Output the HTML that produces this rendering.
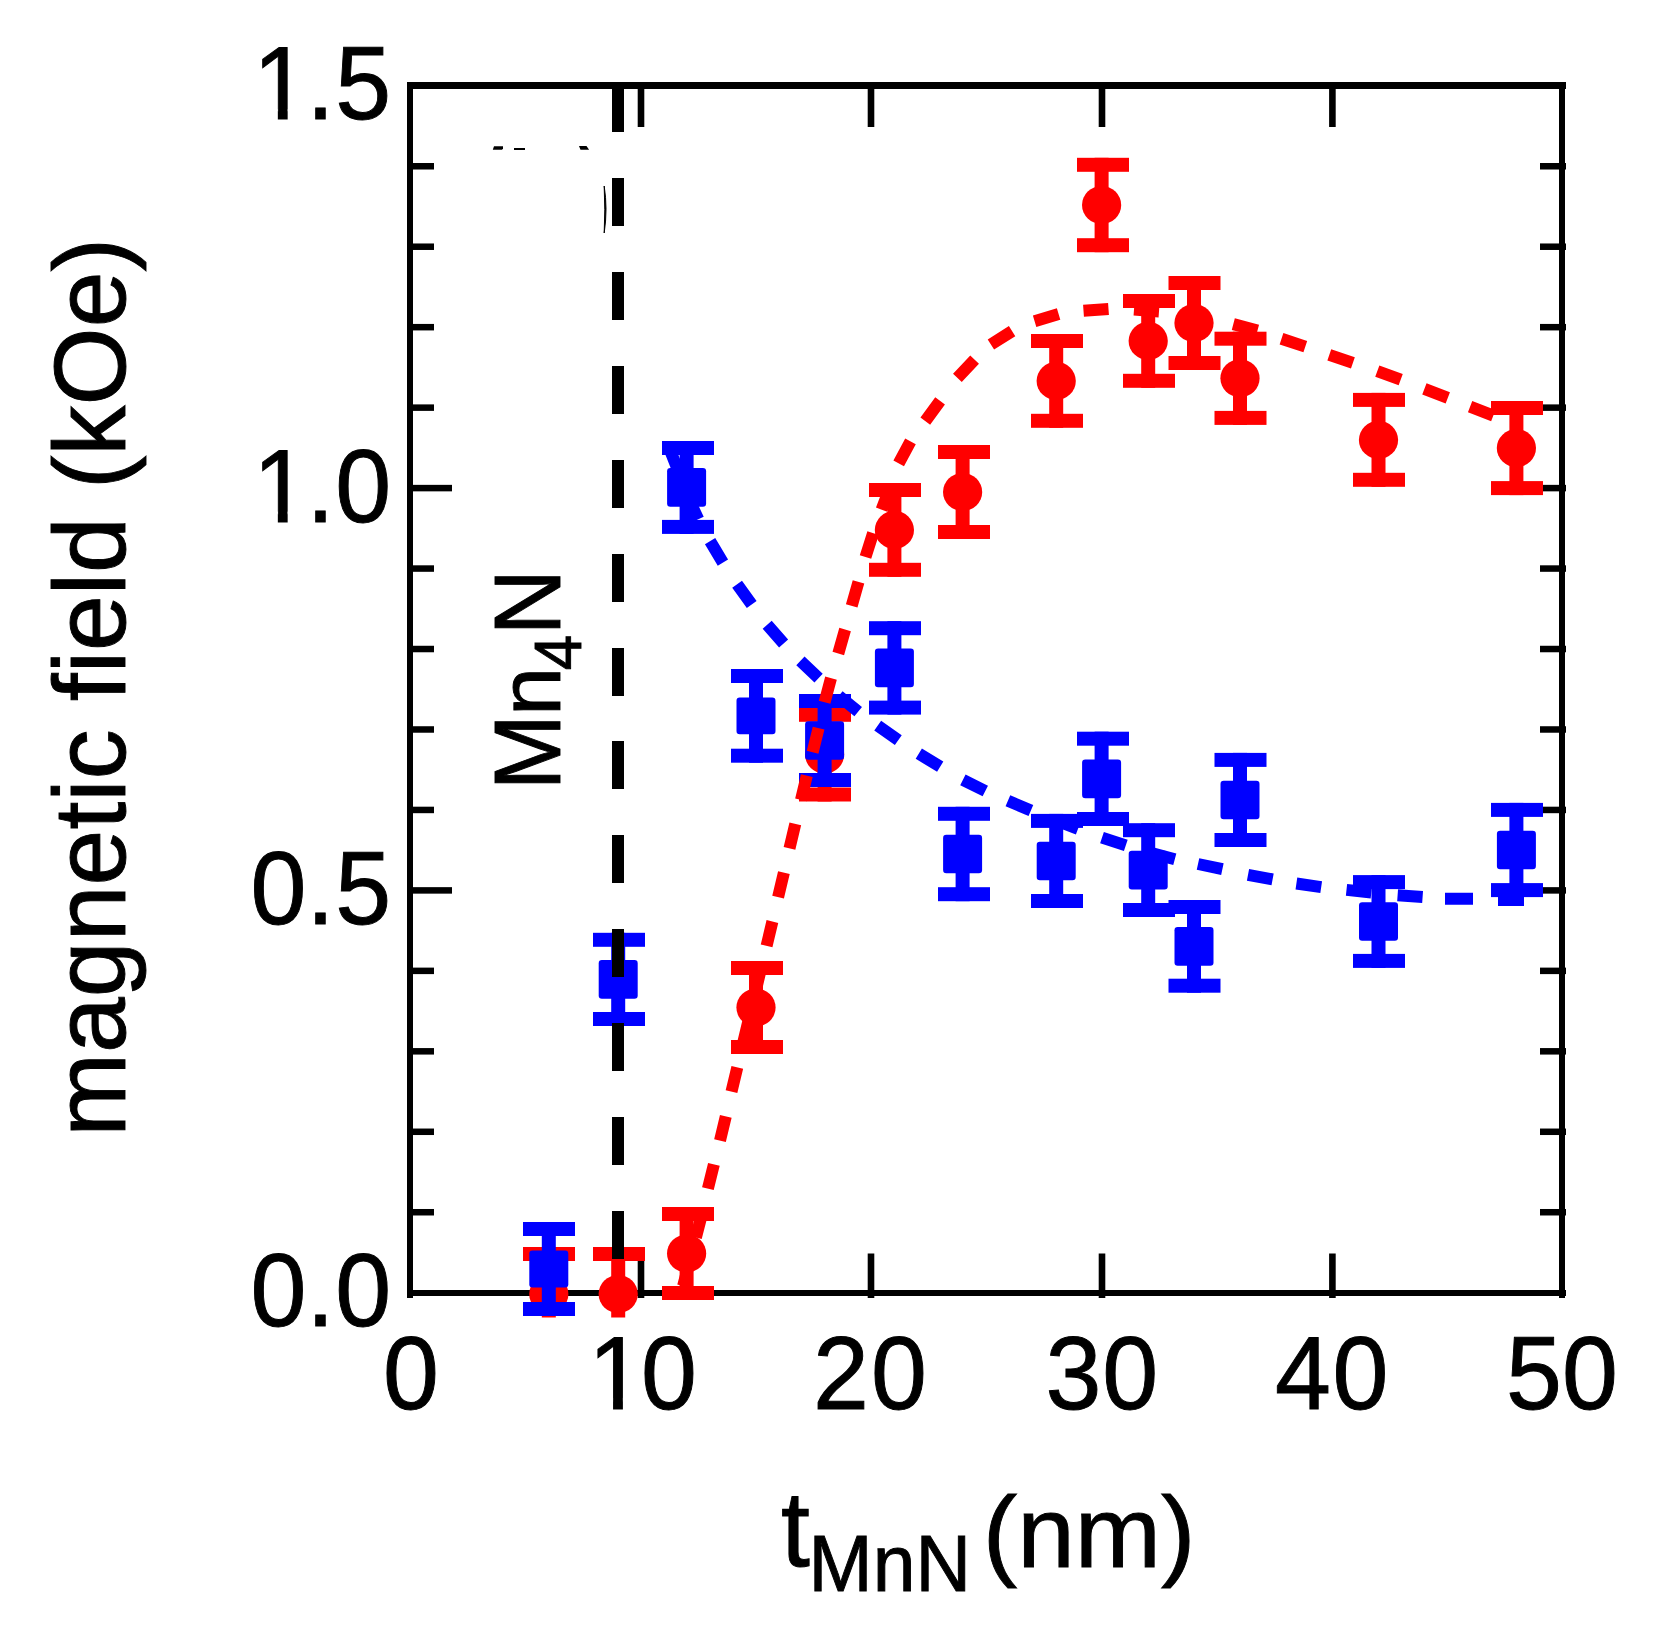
<!DOCTYPE html>
<html lang="en"><head><meta charset="utf-8"><title>Magnetic field vs MnN thickness</title>
<style>html,body{margin:0;padding:0;background:#fff}body{width:1668px;height:1640px;overflow:hidden}svg{display:block}text{font-family:"Liberation Sans",sans-serif;fill:#000;stroke:#000;stroke-width:0.9px;stroke-linejoin:miter}</style></head><body>
<svg width="1668" height="1640" viewBox="0 0 1668 1640" role="img" aria-label="Magnetic field versus MnN thickness">
<rect width="1668" height="1640" fill="#fff"/>
<defs><clipPath id="plotclip"><rect x="380" y="60" width="1230" height="1257.5"/></clipPath></defs>
<g fill="#000">
<rect x="407" y="82" width="6" height="1216"/>
<rect x="1559" y="82" width="6" height="1216"/>
<rect x="407" y="82" width="1159" height="7"/>
<rect x="407" y="1290" width="1159" height="6"/>
<rect x="407" y="1208.99" width="27" height="6.5"/>
<rect x="1540" y="1208.99" width="26" height="6.5"/>
<rect x="407" y="1128.53" width="27" height="6.5"/>
<rect x="1540" y="1128.53" width="26" height="6.5"/>
<rect x="407" y="1048.07" width="27" height="6.5"/>
<rect x="1540" y="1048.07" width="26" height="6.5"/>
<rect x="407" y="967.61" width="27" height="6.5"/>
<rect x="1540" y="967.61" width="26" height="6.5"/>
<rect x="407" y="887.15" width="45" height="6.5"/>
<rect x="1521" y="887.15" width="45" height="6.5"/>
<rect x="407" y="806.69" width="27" height="6.5"/>
<rect x="1540" y="806.69" width="26" height="6.5"/>
<rect x="407" y="726.23" width="27" height="6.5"/>
<rect x="1540" y="726.23" width="26" height="6.5"/>
<rect x="407" y="645.77" width="27" height="6.5"/>
<rect x="1540" y="645.77" width="26" height="6.5"/>
<rect x="407" y="565.31" width="27" height="6.5"/>
<rect x="1540" y="565.31" width="26" height="6.5"/>
<rect x="407" y="484.85" width="45" height="6.5"/>
<rect x="1521" y="484.85" width="45" height="6.5"/>
<rect x="407" y="404.39" width="27" height="6.5"/>
<rect x="1540" y="404.39" width="26" height="6.5"/>
<rect x="407" y="323.93" width="27" height="6.5"/>
<rect x="1540" y="323.93" width="26" height="6.5"/>
<rect x="407" y="243.47" width="27" height="6.5"/>
<rect x="1540" y="243.47" width="26" height="6.5"/>
<rect x="407" y="163.01" width="27" height="6.5"/>
<rect x="1540" y="163.01" width="26" height="6.5"/>
<rect x="637.7" y="82" width="6.6" height="45"/>
<rect x="637.7" y="1253.5" width="6.6" height="44.5"/>
<rect x="867.7" y="82" width="6.6" height="45"/>
<rect x="867.7" y="1253.5" width="6.6" height="44.5"/>
<rect x="1098.7" y="82" width="6.6" height="45"/>
<rect x="1098.7" y="1253.5" width="6.6" height="44.5"/>
<rect x="1329.1" y="82" width="6.6" height="45"/>
<rect x="1329.1" y="1253.5" width="6.6" height="44.5"/>
</g>
<g fill="#ff0000" clip-path="url(#plotclip)">
<rect x="523" y="1247.0" width="52" height="14"/><rect x="523" y="1327.0" width="52" height="14"/><rect x="541.8" y="1247.0" width="14" height="94.0"/>
<ellipse cx="548.8" cy="1294.0" rx="19.6" ry="19"/>
<rect x="593" y="1247.0" width="52" height="14"/><rect x="593" y="1327.0" width="52" height="14"/><rect x="611.2" y="1247.0" width="14" height="94.0"/>
<ellipse cx="618.2" cy="1294.0" rx="19.6" ry="19"/>
<rect x="662" y="1207.0" width="52" height="14"/><rect x="662" y="1286.0" width="52" height="14"/><rect x="679.6" y="1207.0" width="14" height="93.0"/>
<ellipse cx="686.6" cy="1253.5" rx="19.6" ry="19"/>
<rect x="731" y="961.0" width="52" height="14"/><rect x="731" y="1040.0" width="52" height="14"/><rect x="749.0" y="961.0" width="14" height="93.0"/>
<ellipse cx="756.0" cy="1007.5" rx="19.6" ry="19"/>
<rect x="799" y="707.8" width="52" height="14"/><rect x="799" y="787.5" width="52" height="14"/><rect x="817.6" y="707.8" width="14" height="93.7"/>
<ellipse cx="824.6" cy="754.6" rx="19.6" ry="19"/>
<rect x="869" y="483.0" width="52" height="14"/><rect x="869" y="562.8" width="52" height="14"/><rect x="887.4" y="483.0" width="14" height="93.8"/>
<ellipse cx="894.4" cy="529.9" rx="19.6" ry="19"/>
<rect x="938" y="445.0" width="52" height="14"/><rect x="938" y="525.0" width="52" height="14"/><rect x="955.6" y="445.0" width="14" height="94.0"/>
<ellipse cx="962.6" cy="492.0" rx="19.6" ry="19"/>
<rect x="1031" y="334.0" width="52" height="14"/><rect x="1031" y="413.8" width="52" height="14"/><rect x="1049.2" y="334.0" width="14" height="93.8"/>
<ellipse cx="1056.2" cy="380.9" rx="19.6" ry="19"/>
<rect x="1077" y="157.8" width="52" height="14"/><rect x="1077" y="238.2" width="52" height="14"/><rect x="1094.6" y="157.8" width="14" height="94.4"/>
<ellipse cx="1101.6" cy="205.0" rx="19.6" ry="19"/>
<rect x="1123" y="294.0" width="52" height="14"/><rect x="1123" y="373.8" width="52" height="14"/><rect x="1141.2" y="294.0" width="14" height="93.8"/>
<ellipse cx="1148.2" cy="340.9" rx="19.6" ry="19"/>
<rect x="1168.5" y="276.0" width="52" height="14"/><rect x="1168.5" y="356.0" width="52" height="14"/><rect x="1187.0" y="276.0" width="14" height="94.0"/>
<ellipse cx="1194.0" cy="323.0" rx="19.6" ry="19"/>
<rect x="1214.5" y="331.7" width="52" height="14"/><rect x="1214.5" y="410.9" width="52" height="14"/><rect x="1233.0" y="331.7" width="14" height="93.2"/>
<ellipse cx="1240.0" cy="378.3" rx="19.6" ry="19"/>
<rect x="1353" y="392.9" width="52" height="14"/><rect x="1353" y="472.8" width="52" height="14"/><rect x="1371.5" y="392.9" width="14" height="93.9"/>
<ellipse cx="1378.5" cy="439.9" rx="19.6" ry="19"/>
<rect x="1491" y="401.0" width="52" height="14"/><rect x="1491" y="481.1" width="52" height="14"/><rect x="1509.4" y="401.0" width="14" height="94.1"/>
<ellipse cx="1516.4" cy="448.1" rx="19.6" ry="19"/>
</g>
<g fill="#0000ff" clip-path="url(#plotclip)">
<rect x="523" y="1222.0" width="52" height="14"/><rect x="523" y="1302.0" width="52" height="14"/><rect x="541.8" y="1222.0" width="14" height="94.0"/>
<rect x="529.3" y="1250.5" width="39" height="37.0" rx="3.2"/>
<rect x="593" y="932.8" width="52" height="14"/><rect x="593" y="1012.0" width="52" height="14"/><rect x="611.2" y="932.8" width="14" height="93.2"/>
<rect x="598.7" y="960.1" width="39" height="38.6" rx="3.2"/>
<rect x="662" y="441.0" width="52" height="14"/><rect x="662" y="519.9" width="52" height="14"/><rect x="679.6" y="441.0" width="14" height="92.9"/>
<rect x="667.1" y="468.1" width="39" height="38.6" rx="3.2"/>
<rect x="731" y="669.0" width="52" height="14"/><rect x="731" y="748.7" width="52" height="14"/><rect x="749.0" y="669.0" width="14" height="93.7"/>
<rect x="736.5" y="697.5" width="39" height="36.8" rx="3.2"/>
<rect x="799" y="694.0" width="52" height="14"/><rect x="799" y="773.0" width="52" height="14"/><rect x="817.6" y="694.0" width="14" height="93.0"/>
<rect x="805.1" y="721.2" width="39" height="38.6" rx="3.2"/>
<rect x="869" y="621.2" width="52" height="14"/><rect x="869" y="700.6" width="52" height="14"/><rect x="887.4" y="621.2" width="14" height="93.4"/>
<rect x="874.9" y="648.6" width="39" height="38.6" rx="3.2"/>
<rect x="938" y="806.8" width="52" height="14"/><rect x="938" y="887.2" width="52" height="14"/><rect x="955.6" y="806.8" width="14" height="94.4"/>
<rect x="943.1" y="834.7" width="39" height="38.6" rx="3.2"/>
<rect x="1031" y="813.9" width="52" height="14"/><rect x="1031" y="894.0" width="52" height="14"/><rect x="1049.2" y="813.9" width="14" height="94.1"/>
<rect x="1036.7" y="841.7" width="39" height="38.6" rx="3.2"/>
<rect x="1077" y="731.7" width="52" height="14"/><rect x="1077" y="812.0" width="52" height="14"/><rect x="1094.6" y="731.7" width="14" height="94.3"/>
<rect x="1082.1" y="759.6" width="39" height="38.6" rx="3.2"/>
<rect x="1123" y="823.2" width="52" height="14"/><rect x="1123" y="903.0" width="52" height="14"/><rect x="1141.2" y="823.2" width="14" height="93.8"/>
<rect x="1128.7" y="850.8" width="39" height="38.6" rx="3.2"/>
<rect x="1168.5" y="900.0" width="52" height="14"/><rect x="1168.5" y="978.7" width="52" height="14"/><rect x="1187.0" y="900.0" width="14" height="92.7"/>
<rect x="1174.5" y="927.1" width="39" height="38.6" rx="3.2"/>
<rect x="1214.5" y="752.9" width="52" height="14"/><rect x="1214.5" y="833.0" width="52" height="14"/><rect x="1233.0" y="752.9" width="14" height="94.1"/>
<rect x="1220.5" y="780.7" width="39" height="38.6" rx="3.2"/>
<rect x="1353" y="875.1" width="52" height="14"/><rect x="1353" y="953.9" width="52" height="14"/><rect x="1371.5" y="875.1" width="14" height="92.8"/>
<rect x="1359.0" y="902.2" width="39" height="38.6" rx="3.2"/>
<rect x="1491" y="802.9" width="52" height="14"/><rect x="1491" y="883.1" width="52" height="14"/><rect x="1509.4" y="802.9" width="14" height="94.2"/>
<rect x="1496.9" y="830.7" width="39" height="38.6" rx="3.2"/>
</g>
<g fill="#000" shape-rendering="crispEdges">
<rect x="612" y="89.0" width="12" height="43.1"/>
<rect x="612" y="178.0" width="12" height="48.0"/>
<rect x="612" y="271.9" width="12" height="48.0"/>
<rect x="612" y="365.8" width="12" height="48.0"/>
<rect x="612" y="459.7" width="12" height="48.0"/>
<rect x="612" y="553.6" width="12" height="48.0"/>
<rect x="612" y="647.5" width="12" height="48.0"/>
<rect x="612" y="741.4" width="12" height="48.0"/>
<rect x="612" y="835.3" width="12" height="48.0"/>
<rect x="612" y="929.2" width="12" height="48.0"/>
<rect x="612" y="1023.1" width="12" height="48.0"/>
<rect x="612" y="1117.0" width="12" height="48.0"/>
<rect x="612" y="1210.9" width="12" height="48.0"/>
</g>
<g clip-path="url(#plotclip)">
<path d="M683.1 1286.1L689.5 1261.9M695.9 1237.6L702.1 1213.4M707.9 1188.6L713.9 1164.4M720.0 1140.6L725.8 1116.4M731.5 1091.7L737.3 1067.3M743.1 1043.2L748.9 1018.8M754.8 994.6L760.6 970.2M766.6 945.9L772.4 921.5M778.1 897.1L783.9 872.7M789.5 848.3L795.3 823.9M801.0 799.9L806.8 775.7M812.6 752.3L818.6 728.1M824.6 702.3L831.0 678.1M838.3 653.5L845.1 629.5M851.7 605.9L858.5 581.9M865.5 557.0L873.1 533.2M881.6 509.7L890.4 486.3M898.7 463.4L910.5 441.4M925.3 421.1L940.1 400.9M957.4 377.9L974.6 359.7M990.9 344.5L1012.1 331.1M1034.6 321.2L1058.6 314.0M1083.5 310.7L1108.5 308.9M1134.0 309.6L1159.0 311.4M1183.7 314.9L1208.3 319.1M1233.3 324.1L1257.5 330.5M1281.5 338.8L1305.3 346.6M1329.3 354.9L1352.9 362.9M1377.3 371.1L1400.7 379.7M1424.4 388.9L1447.8 397.9M1470.1 406.7L1493.3 415.7" stroke="#ff0000" stroke-width="12" fill="none"/>
<path d="M670.0 450.0L679.2 473.2M687.7 496.7L698.3 519.3M710.1 541.2L722.9 562.6M737.1 584.2L751.7 604.6M767.2 624.7L783.6 643.5M800.4 660.9L818.6 678.1M838.8 695.8L858.2 711.6M877.7 725.7L898.3 740.1M918.8 753.7L940.2 766.7M962.9 779.8L985.3 791.0M1007.9 800.7L1030.9 810.5M1054.6 820.0L1078.0 828.8M1102.0 837.6L1125.8 845.4M1150.6 852.9L1174.8 859.3M1198.0 864.0L1222.4 869.2M1248.0 874.8L1272.6 879.4M1296.4 883.5L1321.2 887.1M1346.5 889.9L1371.3 892.5M1397.6 895.3L1422.6 897.1M1445.0 898.7L1473.0 898.7M1498.0 899.9L1524.0 899.9" stroke="#0000ff" stroke-width="12" fill="none"/>
</g>
<g fill="#000"><path d="M494 146.2h9v2.2l-1 1.4h-9.2z"/><rect x="514" y="148" width="11" height="2"/><path d="M579 146h7.5l2.6 3.8h-8.6z"/><path d="M604.2 186q3.6 23 0 47q1.2-23 0-47z" stroke="#000" stroke-width="1"/></g>
<text transform="translate(411 1408.5) scale(1 1.042)" font-size="100.5" text-anchor="start" x="-27.9">0</text>
<text transform="translate(641 1408.5) scale(1 1.042)" font-size="100.5" text-anchor="start" x="-52.7 0.0">10</text>
<text transform="translate(871 1408.5) scale(1 1.042)" font-size="100.5" text-anchor="start" x="-58.1 0.0">20</text>
<text transform="translate(1102 1408.5) scale(1 1.042)" font-size="100.5" text-anchor="start" x="-56.4 0.3">30</text>
<text transform="translate(1332.4 1408.5) scale(1 1.042)" font-size="100.5" text-anchor="start" x="-57.4 0.0">40</text>
<text transform="translate(1562 1408.5) scale(1 1.042)" font-size="100.5" text-anchor="start" x="-55.9 0.0">50</text>
<text transform="translate(391.2 1326.2) scale(1 1.042)" font-size="100.5" text-anchor="start" x="-140.7 -84.8 -55.9">0.0</text>
<text transform="translate(391.2 923.9) scale(1 1.042)" font-size="100.5" text-anchor="start" x="-140.7 -84.8 -55.9">0.5</text>
<text transform="translate(391.2 521.6) scale(1 1.042)" font-size="100.5" text-anchor="start" x="-138.1 -84.8 -55.9">1.0</text>
<text transform="translate(391.2 119.3) scale(1 1.042)" font-size="100.5" text-anchor="start" x="-138.1 -84.8 -55.9">1.5</text>
<g fill="#fff">
<rect x="257.83" y="109.4" width="20" height="12.1"/>
<rect x="287.66" y="109.4" width="20" height="12.1"/>
<rect x="257.83" y="511.6" width="20" height="11.9"/>
<rect x="287.66" y="511.6" width="20" height="11.9"/>
<rect x="593.06" y="1397.8" width="20" height="12.7"/>
<rect x="622.9" y="1397.8" width="20" height="12.7"/>
</g>
<text transform="translate(124.6 1136.7) rotate(-90) scale(1 1.018)" font-size="100.45" text-anchor="start">magnetic field (kOe)</text>
<text transform="translate(780.9 1565.6) scale(1 1.04)" font-size="104" text-anchor="start">t</text>
<text transform="translate(808.6 1590.6) scale(1 1.03)" font-size="76.9" text-anchor="start">MnN</text>
<text transform="translate(982.8 1567.2) scale(1.032 1)" font-size="100.3" text-anchor="start">(nm)</text>
<text transform="translate(560.3 790.2) rotate(-90) scale(1 1.035)" font-size="91.3" text-anchor="start">M</text>
<text transform="translate(560.3 715.8) rotate(-90)" font-size="87.5" text-anchor="start">n</text>
<text transform="translate(581.2 670.2) rotate(-90) scale(1 1.04)" font-size="63.5" text-anchor="start">4</text>
<text transform="translate(560.3 635.3) rotate(-90) scale(1 1.035)" font-size="91.4" text-anchor="start">N</text>
</svg></body></html>
